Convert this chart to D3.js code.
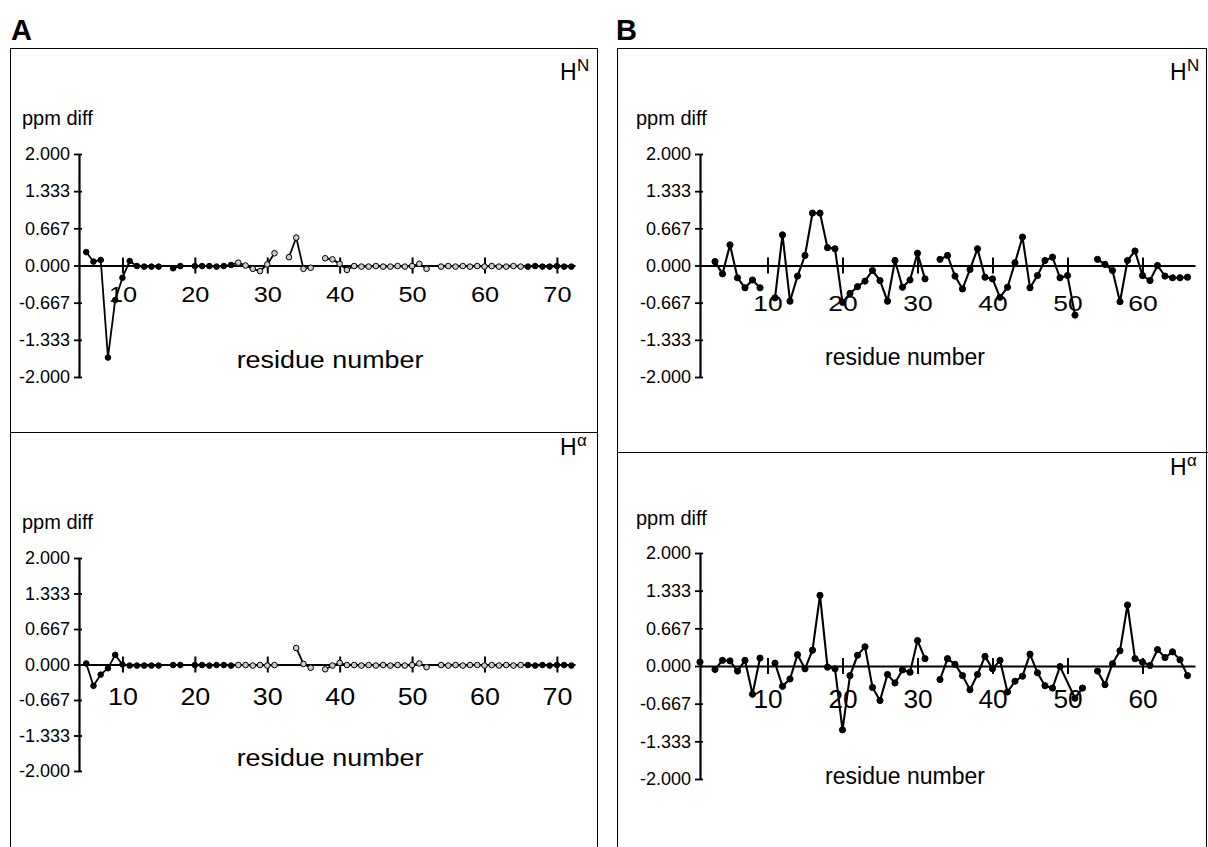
<!DOCTYPE html>
<html>
<head>
<meta charset="utf-8">
<script src="https://cdn.jsdelivr.net/npm/d3@7"></script>
<style>
body { margin: 0; background: #fff; }
svg { font-family: "Liberation Sans", Arial, Helvetica, sans-serif; }
</style>
</head>
<body>
<svg width="1208" height="847"></svg>
<script>
// chemical shift differences (ppm) per residue, null = no value
var resA = d3.range(5, 73);
var hnA = [
  0.24, 0.07, 0.10, -1.65, -0.62, -0.22, 0.08, -0.01, -0.02, -0.02, -0.02,   // 5-15
  null, -0.05, -0.01, null,                                                    // 16-19
  -0.01, -0.01, -0.01, -0.02, -0.01, 0.01, 0.05, 0.00, -0.06, -0.10, 0.02, 0.22, // 20-31
  null, 0.15, 0.50, -0.06, -0.04, null,                                        // 32-37
  0.13, 0.11, 0.03, -0.08,                                                     // 38-41
  -0.01, -0.02, -0.02, -0.01, -0.02, -0.02, -0.01, -0.02, -0.01,               // 42-50
  0.03, -0.06, null,                                                           // 51-53
  -0.02, -0.01, -0.02, -0.01, -0.02, -0.01, -0.02, -0.01, -0.02, -0.02,        // 54-63
  -0.01, -0.02, -0.02, -0.01, -0.02, -0.02, -0.01, -0.02, -0.02                // 64-72
];
var haA = [
  0.02, -0.40, -0.19, -0.07, 0.18, 0.00, -0.02, -0.02, -0.02, -0.02, -0.02,   // 5-15
  null, -0.01, -0.01, null,                                                    // 16-19
  -0.01, -0.01, -0.02, -0.01, -0.01, -0.02, -0.01, -0.01, -0.02, -0.01, -0.02, -0.01, // 20-31
  null, null, 0.31, 0.01, -0.06, null,                                         // 32-37
  -0.09, -0.02, 0.03, -0.01,                                                   // 38-41
  -0.01, -0.02, -0.01, -0.02, -0.01, -0.02, -0.01, -0.02, -0.01,               // 42-50
  0.02, -0.05, null,                                                           // 51-53
  -0.01, -0.02, -0.01, -0.02, -0.01, -0.01, -0.02, -0.01, -0.02, -0.01,        // 54-63
  -0.02, -0.01, -0.01, -0.02, -0.01, -0.02, -0.01, -0.01, -0.02                // 64-72
];

var resBn = d3.range(3, 67);
var hnB = [
  0.07, -0.15, 0.37, -0.22, -0.40, -0.26, -0.40, null,                         // 3-10
  -0.58, 0.55, -0.64, -0.19, 0.18, 0.94, 0.94, 0.32, 0.30, -0.66,              // 11-20
  -0.50, -0.38, -0.28, -0.09, -0.27, -0.64, 0.09, -0.39, -0.26, 0.22,          // 21-30
  -0.24, null, 0.11, 0.18, -0.19, -0.42, -0.07, 0.30, -0.21, -0.24,            // 31-40
  -0.57, -0.39, 0.05, 0.51, -0.40, -0.18, 0.09, 0.15, -0.22, -0.18,            // 41-50
  -0.89, null, null, 0.11, 0.02, -0.09, -0.65, 0.09, 0.26, -0.18,              // 51-60
  -0.27, 0.00, -0.19, -0.22, -0.22, -0.21                                      // 61-66
];
var resBa = d3.range(1, 67).filter(function(r) { return r !== 50; });
var haB = [
  0.07, null, -0.06, 0.10, 0.09, -0.09, 0.10, -0.50, 0.14, null,               // 1-10
  0.05, -0.36, -0.23, 0.20, -0.05, 0.28, 1.25, -0.02, -0.05, -1.13,            // 11-20
  -0.17, 0.19, 0.34, -0.38, -0.61, -0.15, -0.30, -0.07, -0.11, 0.45,           // 21-30
  0.13, null, -0.24, 0.13, 0.03, -0.17, -0.42, -0.15, 0.17, -0.05,             // 31-40
  0.10, -0.46, -0.27, -0.18, 0.21, -0.12, -0.35, -0.39, -0.01,                 // 41-49
  -0.57, -0.39, null, -0.09, -0.33, 0.04, 0.27, 1.08, 0.13, 0.07,              // 51-60
  0.01, 0.29, 0.15, 0.25, 0.11, -0.17                                          // 61-66
];

var yTicks = [-2, -4/3, -2/3, 0, 2/3, 4/3, 2];
var xTicksA = [10, 20, 30, 40, 50, 60, 70];
var xTicksB = [10, 20, 30, 40, 50, 60];

var svg = d3.select("svg");
var fmt = function(d) { return d3.format(".3f")(d).replace("\u2212", "-"); };

// frames
svg.append("rect").attr("x", 10.5).attr("y", 48.5).attr("width", 587).attr("height", 820)
  .attr("fill", "none").attr("stroke", "#000");
svg.append("line").attr("x1", 10).attr("x2", 598).attr("y1", 432.5).attr("y2", 432.5).attr("stroke", "#000");
svg.append("rect").attr("x", 617.5).attr("y", 48.5).attr("width", 589).attr("height", 820)
  .attr("fill", "none").attr("stroke", "#000");
svg.append("line").attr("x1", 617).attr("x2", 1208).attr("y1", 452.5).attr("y2", 452.5).attr("stroke", "#000");

svg.append("text").attr("x", 11).attr("y", 40).style("font-size", "29px").style("font-weight", "bold").text("A");
svg.append("text").attr("x", 616).attr("y", 40).style("font-size", "29px").style("font-weight", "bold").text("B");

function panel(o) {
  var g = svg.append("g");
  var x = d3.scaleLinear().domain(o.xDomain).range([o.left, o.right]);
  var y = d3.scaleLinear().domain([-2, 2]).range([o.bottom, o.top]);

  // y axis
  var ya = g.append("g").attr("transform", "translate(" + o.left + ",0)")
    .call(d3.axisLeft(y).tickValues(yTicks).tickFormat(fmt).tickSize(5).tickPadding(4).tickSizeOuter(0));
  ya.select(".domain").attr("stroke-width", 2.2);
  ya.selectAll(".tick line").attr("stroke-width", 1.8);
  ya.selectAll("text").style("font-size", "18px").attr("fill", "#000");
  var yb = g.append("g").attr("transform", "translate(" + o.left + ",0)")
    .call(d3.axisRight(y).tickValues(yTicks).tickFormat("").tickSize(3));
  yb.select(".domain").remove();
  yb.selectAll(".tick line").attr("stroke-width", 1.8);

  // x axis through zero
  var xa = g.append("g").attr("transform", "translate(0," + y(0) + ")")
    .call(d3.axisBottom(x).tickValues(o.xTicks).tickSize(8).tickPadding(o.pad).tickSizeOuter(0));
  xa.select(".domain").attr("stroke-width", 1.8);
  xa.selectAll(".tick line").attr("stroke-width", 2);
  xa.selectAll("text").style("font-size", o.fs + "px").attr("fill", "#000")
    .attr("transform", "scale(" + o.sx + ",1)");
  var xb = g.append("g").attr("transform", "translate(0," + y(0) + ")")
    .call(d3.axisTop(x).tickValues(o.xTicks).tickSize(8).tickFormat(""));
  xb.select(".domain").remove();
  xb.selectAll(".tick line").attr("stroke-width", 2);

  var pts = o.res.map(function(r, i) { return {r: r, v: o.val[i]}; });
  var line = d3.line()
    .defined(function(d) { return d.v != null; })
    .x(function(d) { return x(d.r); })
    .y(function(d) { return y(d.v); });
  g.append("path").attr("d", line(pts)).attr("fill", "none")
    .attr("stroke", "#000").attr("stroke-width", o.lw);
  g.selectAll("circle.pt").data(pts.filter(function(d) { return d.v != null; }))
    .enter().append("circle").attr("class", "pt")
    .attr("cx", function(d) { return x(d.r); })
    .attr("cy", function(d) { return y(d.v); })
    .attr("r", o.open ? 2.8 : 3.1)
    .attr("fill", function(d) { return o.open && d.r >= 26 && d.r <= 65 ? "#ccc" : "#000"; })
    .attr("stroke", "#000").attr("stroke-width", 1);

  g.append("text").attr("x", o.labelX).attr("y", o.ppmY).style("font-size", "20px").text("ppm diff");
  g.append("text").attr("text-anchor", "middle")
    .attr("transform", "translate(" + o.resX + "," + o.resY + ") scale(" + o.rsx + ",1)")
    .style("font-size", o.rfs + "px").text("residue number");
  g.append("text").attr("x", o.hX).attr("y", o.hY).style("font-size", "23px").text("H");
  g.append("text").attr("x", o.hX + 17).attr("y", o.hY - 9).style("font-size", "17px").text(o.sup);
}

panel({res: resA, val: hnA, xDomain: [4, 72.5], left: 79, right: 575, top: 154, bottom: 377,
  xTicks: xTicksA, pad: 13, fs: 22, sx: 1.15, open: true, lw: 1.8, labelX: 22, ppmY: 125,
  resX: 330, resY: 368, rfs: 24, rsx: 1.12, hX: 560, hY: 80, sup: "N"});
panel({res: resA, val: haA, xDomain: [4, 72.5], left: 79, right: 575, top: 558, bottom: 771,
  xTicks: xTicksA, pad: 15, fs: 24, sx: 1.12, open: true, lw: 1.8, labelX: 22, ppmY: 529,
  resX: 330, resY: 766, rfs: 24, rsx: 1.12, hX: 560, hY: 455, sup: "\u03b1"});
panel({res: resBn, val: hnB, xDomain: [1, 67], left: 700, right: 1195, top: 154, bottom: 377,
  xTicks: xTicksB, pad: 22, fs: 22, sx: 1.2, open: false, lw: 2.1, labelX: 636, ppmY: 125,
  resX: 905, resY: 365, rfs: 23, rsx: 1.0, hX: 1170, hY: 80, sup: "N"});
panel({res: resBa, val: haB, xDomain: [1, 67], left: 700, right: 1195, top: 553, bottom: 779,
  xTicks: xTicksB, pad: 16, fs: 25, sx: 1.05, open: false, lw: 2.1, labelX: 636, ppmY: 525,
  resX: 905, resY: 784, rfs: 23, rsx: 1.0, hX: 1170, hY: 475, sup: "\u03b1"});
</script>
</body>
</html>
